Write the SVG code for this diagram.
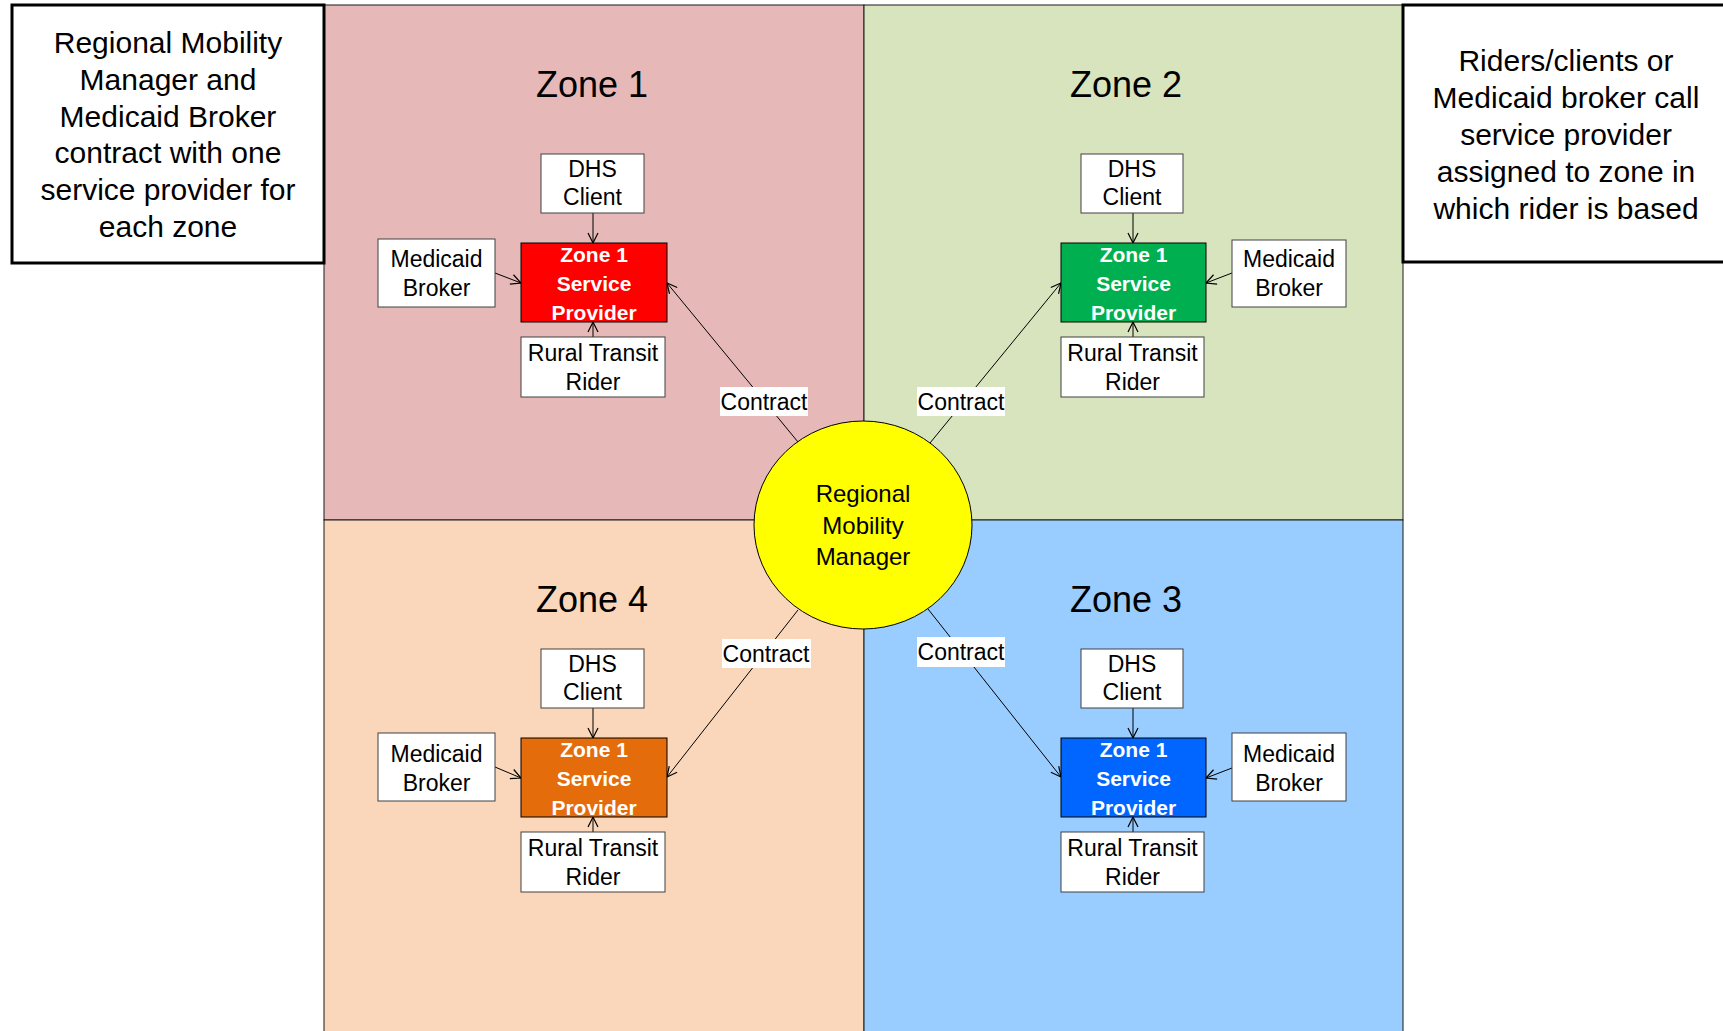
<svg xmlns="http://www.w3.org/2000/svg" width="1723" height="1031" viewBox="0 0 1723 1031">
  <defs>
    <marker id="arrow" markerUnits="userSpaceOnUse" markerWidth="14" markerHeight="14" viewBox="0 0 14 14" refX="12" refY="7" orient="auto">
      <path d="M2,2 L12,7 L2,12" fill="none" stroke="#000" stroke-width="1.2"/>
    </marker>
    <style>
      text { font-family: "Liberation Sans", Arial, sans-serif; text-anchor: middle; fill: #000; }
      .zone { stroke: #1a1a1a; stroke-width: 1; }
      .title { font-size: 36px; }
      .note { fill: #fff; stroke: #000; stroke-width: 3; }
      .noteText { font-size: 30px; }
      .node { fill: #fff; stroke: #404040; stroke-width: 1; }
      .nodeText { font-size: 23px; }
      .sp { stroke: #000; stroke-width: 1; }
      .spText { font-size: 21px; font-weight: bold; fill: #fff; }
      .edge { stroke: #000; stroke-width: 1; fill: none; marker-end: url(#arrow); }
      .contract { fill: #fff; }
      .contractText { font-size: 23px; }
    </style>
  </defs>

  <rect width="1723" height="1031" fill="#fff"/>

  <!-- zone quadrants -->
  <g id="zones">
    <rect class="zone" x="324" y="5" width="540" height="515" fill="#E6B9B8"/>
    <rect class="zone" x="864" y="5" width="539" height="515" fill="#D7E4BD"/>
    <rect class="zone" x="324" y="520" width="540" height="520" fill="#FAD7BA"/>
    <rect class="zone" x="864" y="520" width="539" height="520" fill="#99CCFF"/>
    <text class="title" x="592" y="97">Zone 1</text>
    <text class="title" x="1126" y="97">Zone 2</text>
    <text class="title" x="592" y="612">Zone 4</text>
    <text class="title" x="1126" y="612">Zone 3</text>
  </g>

  <!-- explanatory notes -->
  <g id="note-left">
    <rect class="note" x="12" y="5" width="312" height="258"/>
    <text class="noteText" x="168"><tspan x="168" y="53">Regional Mobility</tspan><tspan x="168" y="90">Manager and</tspan><tspan x="168" y="127">Medicaid Broker</tspan><tspan x="168" y="163">contract with one</tspan><tspan x="168" y="200">service provider for</tspan><tspan x="168" y="237">each zone</tspan></text>
  </g>
  <g id="note-right">
    <rect class="note" x="1403" y="5" width="330" height="257"/>
    <text class="noteText" x="1566"><tspan x="1566" y="71">Riders/clients or</tspan><tspan x="1566" y="108">Medicaid broker call</tspan><tspan x="1566" y="145">service provider</tspan><tspan x="1566" y="182">assigned to zone in</tspan><tspan x="1566" y="219">which rider is based</tspan></text>
  </g>

  <!-- connectors -->
  <g id="connectors">
    <!-- zone 1 -->
    <line class="edge" x1="593" y1="213" x2="593" y2="243"/>
    <line class="edge" x1="495" y1="273" x2="521" y2="283"/>
    <line class="edge" x1="593" y1="337" x2="593" y2="322"/>
    <line class="edge" x1="798" y1="442" x2="667" y2="283"/>
    <!-- zone 2 -->
    <line class="edge" x1="1133" y1="213" x2="1133" y2="243"/>
    <line class="edge" x1="1232" y1="273" x2="1206" y2="283"/>
    <line class="edge" x1="1133" y1="337" x2="1133" y2="322"/>
    <line class="edge" x1="930" y1="443" x2="1061" y2="283"/>
    <!-- zone 4 -->
    <line class="edge" x1="593" y1="708" x2="593" y2="738"/>
    <line class="edge" x1="495" y1="767" x2="521" y2="778"/>
    <line class="edge" x1="593" y1="832" x2="593" y2="817"/>
    <line class="edge" x1="798" y1="610" x2="667" y2="777"/>
    <!-- zone 3 -->
    <line class="edge" x1="1133" y1="708" x2="1133" y2="738"/>
    <line class="edge" x1="1232" y1="768" x2="1206" y2="778"/>
    <line class="edge" x1="1133" y1="832" x2="1133" y2="817"/>
    <line class="edge" x1="928" y1="609" x2="1061" y2="777"/>
    <!-- contract labels -->
    <rect class="contract" x="720" y="387" width="88" height="29"/>
    <text class="contractText" x="764" y="410">Contract</text>
    <rect class="contract" x="917" y="387" width="88" height="29"/>
    <text class="contractText" x="961" y="410">Contract</text>
    <rect class="contract" x="722" y="639" width="89" height="29"/>
    <text class="contractText" x="766" y="662">Contract</text>
    <rect class="contract" x="917" y="637" width="88" height="30"/>
    <text class="contractText" x="961" y="660">Contract</text>
  </g>

  <!-- central manager -->
  <g id="regional-mobility-manager">
    <ellipse cx="863" cy="525" rx="109" ry="104" fill="#FFFF00" stroke="#000" stroke-width="1"/>
    <text font-size="24" x="863"><tspan x="863" y="502">Regional</tspan><tspan x="863" y="534">Mobility</tspan><tspan x="863" y="565">Manager</tspan></text>
  </g>

  <!-- zone 1 nodes -->
  <g id="z1-provider">
    <rect class="sp" x="521" y="243" width="146" height="79" fill="#FF0000"/>
    <text class="spText"><tspan x="594" y="262">Zone 1</tspan><tspan x="594" y="291">Service</tspan><tspan x="594" y="320">Provider</tspan></text>
  </g>
  <g id="z1-dhs">
    <rect class="node" x="541" y="154" width="103" height="59"/>
    <text class="nodeText"><tspan x="592.5" y="177">DHS</tspan><tspan x="592.5" y="205">Client</tspan></text>
  </g>
  <g id="z1-medicaid">
    <rect class="node" x="378" y="239" width="117" height="68"/>
    <text class="nodeText"><tspan x="436.5" y="267">Medicaid</tspan><tspan x="436.5" y="296">Broker</tspan></text>
  </g>
  <g id="z1-rider">
    <rect class="node" x="521" y="337" width="144" height="60"/>
    <text class="nodeText"><tspan x="593" y="361">Rural Transit</tspan><tspan x="593" y="390">Rider</tspan></text>
  </g>

  <!-- zone 2 nodes -->
  <g id="z2-provider">
    <rect class="sp" x="1061" y="243" width="145" height="79" fill="#00B050"/>
    <text class="spText"><tspan x="1133.5" y="262">Zone 1</tspan><tspan x="1133.5" y="291">Service</tspan><tspan x="1133.5" y="320">Provider</tspan></text>
  </g>
  <g id="z2-dhs">
    <rect class="node" x="1081" y="154" width="102" height="59"/>
    <text class="nodeText"><tspan x="1132" y="177">DHS</tspan><tspan x="1132" y="205">Client</tspan></text>
  </g>
  <g id="z2-medicaid">
    <rect class="node" x="1232" y="240" width="114" height="67"/>
    <text class="nodeText"><tspan x="1289" y="267">Medicaid</tspan><tspan x="1289" y="296">Broker</tspan></text>
  </g>
  <g id="z2-rider">
    <rect class="node" x="1061" y="337" width="143" height="60"/>
    <text class="nodeText"><tspan x="1132.5" y="361">Rural Transit</tspan><tspan x="1132.5" y="390">Rider</tspan></text>
  </g>

  <!-- zone 4 nodes -->
  <g id="z4-provider">
    <rect class="sp" x="521" y="738" width="146" height="79" fill="#E46C0A"/>
    <text class="spText"><tspan x="594" y="757">Zone 1</tspan><tspan x="594" y="786">Service</tspan><tspan x="594" y="815">Provider</tspan></text>
  </g>
  <g id="z4-dhs">
    <rect class="node" x="541" y="649" width="103" height="59"/>
    <text class="nodeText"><tspan x="592.5" y="672">DHS</tspan><tspan x="592.5" y="700">Client</tspan></text>
  </g>
  <g id="z4-medicaid">
    <rect class="node" x="378" y="733" width="117" height="68"/>
    <text class="nodeText"><tspan x="436.5" y="762">Medicaid</tspan><tspan x="436.5" y="791">Broker</tspan></text>
  </g>
  <g id="z4-rider">
    <rect class="node" x="521" y="832" width="144" height="60"/>
    <text class="nodeText"><tspan x="593" y="856">Rural Transit</tspan><tspan x="593" y="885">Rider</tspan></text>
  </g>

  <!-- zone 3 nodes -->
  <g id="z3-provider">
    <rect class="sp" x="1061" y="738" width="145" height="79" fill="#0066FF"/>
    <text class="spText"><tspan x="1133.5" y="757">Zone 1</tspan><tspan x="1133.5" y="786">Service</tspan><tspan x="1133.5" y="815">Provider</tspan></text>
  </g>
  <g id="z3-dhs">
    <rect class="node" x="1081" y="649" width="102" height="59"/>
    <text class="nodeText"><tspan x="1132" y="672">DHS</tspan><tspan x="1132" y="700">Client</tspan></text>
  </g>
  <g id="z3-medicaid">
    <rect class="node" x="1232" y="733" width="114" height="68"/>
    <text class="nodeText"><tspan x="1289" y="762">Medicaid</tspan><tspan x="1289" y="791">Broker</tspan></text>
  </g>
  <g id="z3-rider">
    <rect class="node" x="1061" y="832" width="143" height="60"/>
    <text class="nodeText"><tspan x="1132.5" y="856">Rural Transit</tspan><tspan x="1132.5" y="885">Rider</tspan></text>
  </g>
</svg>
